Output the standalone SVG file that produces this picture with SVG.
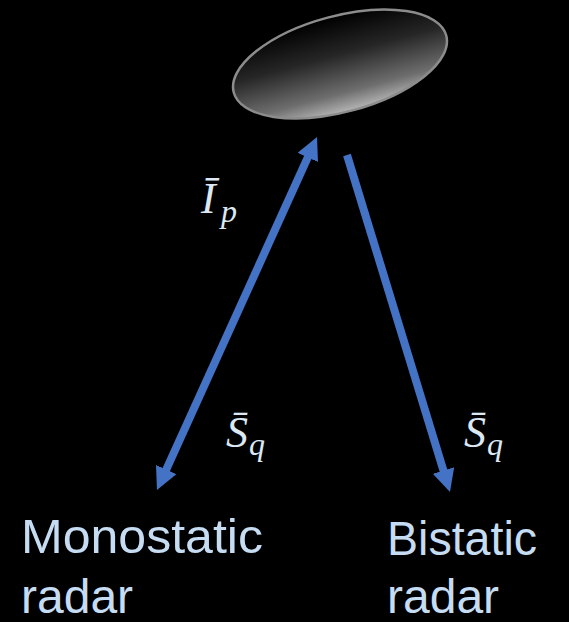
<svg xmlns="http://www.w3.org/2000/svg" width="569" height="622" viewBox="0 0 569 622">
  <defs>
    <linearGradient id="objGrad" x1="0" y1="0" x2="0" y2="1">
      <stop offset="0" stop-color="#000000"/>
      <stop offset="0.4" stop-color="#262626"/>
      <stop offset="0.8" stop-color="#6e6e6e"/>
      <stop offset="1" stop-color="#b4b4b4"/>
    </linearGradient>
    <marker id="head" viewBox="0 0 10 10" markerWidth="2.8" markerHeight="2.8" refX="1" refY="5" orient="auto-start-reverse" markerUnits="strokeWidth">
      <path d="M0,0 L10,5 L0,10 z" fill="#4472C4"/>
    </marker>
    <style>
      .conn { stroke: #4472C4; stroke-width: 8; fill: none; }
      .label { font-family: "Liberation Sans", Arial, sans-serif; font-size: 48px; fill: #C5DCF2; }
      .math { font-family: "Liberation Serif", "DejaVu Serif", serif; font-style: italic; fill: #DCE8F4; }
    </style>
  </defs>
  <rect x="0" y="0" width="569" height="622" fill="#000000"/>

  <g id="target">
    <ellipse cx="340" cy="64" rx="110" ry="48" transform="rotate(-15 340 64)" fill="url(#objGrad)" stroke="#8c8c8c" stroke-width="2.5"/>
  </g>

  <g id="connectors">
    <line class="conn" x1="165.3" y1="471.6" x2="308.7" y2="155.4" marker-start="url(#head)" marker-end="url(#head)"/>
    <line class="conn" x1="347" y1="155" x2="444.1" y2="472.7" marker-end="url(#head)"/>
  </g>

  <g id="label-Ip">
    <text class="math" x="201" y="213" font-size="44">Ī</text>
    <text class="math" x="221" y="222" font-size="32">p</text>
  </g>
  <g id="label-Sq-mono">
    <text class="math" x="226" y="447" font-size="44">S̄</text>
    <text class="math" x="249" y="455" font-size="32">q</text>
  </g>
  <g id="label-Sq-bi">
    <text class="math" x="464" y="447" font-size="44">S̄</text>
    <text class="math" x="487" y="455" font-size="32">q</text>
  </g>

  <g id="monostatic-radar">
    <text class="label" x="21" y="553" textLength="242" lengthAdjust="spacingAndGlyphs">Monostatic</text>
    <text class="label" x="21" y="613">radar</text>
  </g>
  <g id="bistatic-radar">
    <text class="label" x="387" y="555" textLength="150" lengthAdjust="spacingAndGlyphs">Bistatic</text>
    <text class="label" x="387" y="613">radar</text>
  </g>
</svg>
